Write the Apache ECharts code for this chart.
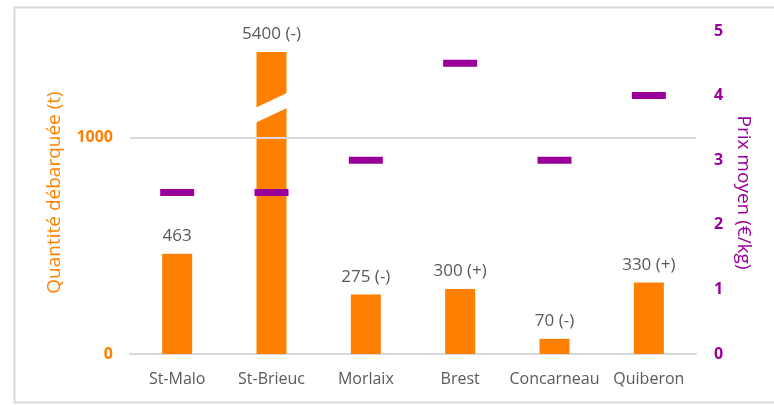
<!DOCTYPE html>
<html>
<head>
<meta charset="utf-8">
<script src="https://cdn.jsdelivr.net/npm/echarts@6/dist/echarts.min.js"></script>
<style>
    html, body { margin: 0; padding: 0; background: #fff; }
    #chart { width: 774px; height: 405px; }
</style>
</head>
<body>
<div id="chart"></div>
<script>
// ports and values
var ports = ['St-Malo', 'St-Brieuc', 'Morlaix', 'Brest', 'Concarneau', 'Quiberon'];
var quantities = [463, 5400, 275, 300, 70, 330];
var trends = ['', '-', '-', '+', '-', '+'];
var prices = [2.5, 2.5, 3, 4.5, 3, 4];
var leftTicks = [0, 1000];
var rightTicks = [0, 1, 2, 3, 4, 5];

// the St-Brieuc bar is cut off at this height (axis break)
var breakCap = 1396;
var breakAt = 1138;

var orange = '#ff8000';
var purple = '#990099';
var grey = '#595959';
var font = 'Open Sans';

var barData = quantities.map(function (v) { return Math.min(v, breakCap); });
var breakData = [];
quantities.forEach(function (v, i) {
    if (v > breakCap) breakData.push([i, breakAt]);
});

var myChart = echarts.init(document.getElementById('chart'));
var option = {
    animation: false,
    textStyle: { fontFamily: font },
    graphic: [{
        type: 'rect',
        shape: { x: 14.5, y: 7.5, width: 780, height: 395 },
        style: { fill: 'none', stroke: '#d9d9d9', lineWidth: 2 },
        z: -10
    }],
    grid: { left: 130, right: 78, top: 31, bottom: 51 },
    xAxis: {
        type: 'category',
        data: ports,
        axisLine: { lineStyle: { color: '#d9d9d9', width: 2 } },
        axisTick: { show: false },
        axisLabel: { interval: 0, color: grey, fontSize: 16, margin: 17, fontFamily: font }
    },
    yAxis: [{
        type: 'value',
        min: 0,
        max: 1493,
        interval: 1000,
        name: 'Quantité débarquée (t)',
        nameLocation: 'middle',
        nameGap: 66,
        nameTextStyle: { color: orange, fontSize: 19, fontFamily: font },
        axisLine: { show: false },
        axisTick: { show: false },
        splitLine: { show: false },
        axisLabel: {
            color: orange, fontSize: 16, fontWeight: 'bold', margin: 17, fontFamily: font,
            showMaxLabel: false,
            formatter: function (v) { return leftTicks.indexOf(v) >= 0 ? String(v) : ''; }
        }
    }, {
        type: 'value',
        min: 0,
        max: 5,
        interval: 1,
        position: 'right',
        name: 'Prix moyen (€/kg)',
        nameLocation: 'middle',
        nameGap: 33,
        nameRotate: -90,
        nameTextStyle: { color: purple, fontSize: 19, fontFamily: font },
        axisLine: { show: false },
        axisTick: { show: false },
        splitLine: { show: false },
        axisLabel: {
            color: purple, fontSize: 16, fontWeight: 'bold', margin: 18, fontFamily: font,
            formatter: function (v) { return rightTicks.indexOf(v) >= 0 ? String(v) : ''; }
        }
    }],
    series: [{
        type: 'bar',
        yAxisIndex: 0,
        barWidth: 30,
        data: barData,
        itemStyle: { color: orange },
        label: {
            show: true,
            position: 'top',
            distance: 9,
            color: grey,
            fontSize: 17,
            fontFamily: font,
            formatter: function (p) {
                var t = trends[p.dataIndex];
                return quantities[p.dataIndex] + (t ? ' (' + t + ')' : '');
            }
        },
        markLine: {
            silent: true,
            symbol: 'none',
            label: { show: false },
            lineStyle: { color: '#d9d9d9', type: 'solid', width: 2 },
            data: [{ yAxis: 1000 }]
        },
        z: 2
    }, {
        type: 'custom',
        yAxisIndex: 0,
        data: breakData,
        renderItem: function (params, api) {
            var p = api.coord([api.value(0), api.value(1)]);
            var hw = 17, rise = 8, th = 7.5;
            return {
                type: 'polygon',
                shape: {
                    points: [
                        [p[0] - hw, p[1] + rise - th],
                        [p[0] + hw, p[1] - rise - th],
                        [p[0] + hw, p[1] - rise + th],
                        [p[0] - hw, p[1] + rise + th]
                    ]
                },
                style: { fill: '#fff' }
            };
        },
        z: 3
    }, {
        type: 'scatter',
        yAxisIndex: 1,
        data: prices,
        symbol: 'rect',
        symbolSize: [34, 7],
        itemStyle: { color: purple, opacity: 1 },
        z: 5
    }]
};
myChart.setOption(option);
</script>
</body>
</html>
